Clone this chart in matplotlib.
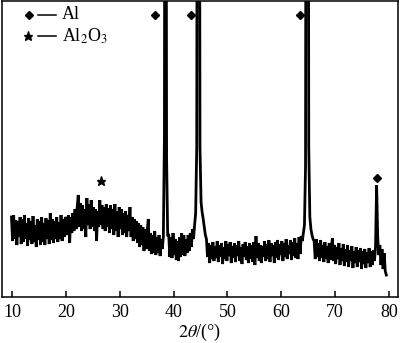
import numpy as np
import matplotlib
matplotlib.use("Agg")
import matplotlib.pyplot as plt

plt.rcParams['font.family'] = ['Liberation Serif', 'DejaVu Serif']
plt.rcParams['mathtext.fontset'] = 'stix'

# 2theta sampling grid (degrees)
theta_start = 9.9
theta_step = 0.2

# Intensity (arbitrary units)
seg_10_20 = [80, 56, 82, 58, 77, 52, 76, 60, 80, 53,
             78, 55, 82, 58, 74, 51, 79, 57, 76, 53,
             81, 55, 72, 50, 78, 57, 76, 52, 80, 55,
             74, 52, 79, 58, 77, 53, 84, 57, 78, 54,
             76, 58, 80, 55, 75, 58, 82, 56, 78, 60,
             80]
seg_20_30 = [78, 62, 82, 54, 80, 64, 84, 66, 88, 68,
             90, 102, 70, 94, 66, 92, 68, 88, 60, 99,
             72, 93, 68, 97, 70, 90, 66, 88, 56, 86,
             70, 97, 72, 92, 68, 90, 66, 93, 70, 89,
             64, 92, 68, 88, 62, 93, 66, 86, 60, 90]
seg_30_38 = [68, 88, 62, 84, 64, 86, 60, 82, 66, 90,
             60, 80, 56, 78, 58, 76, 54, 74, 50, 72,
             52, 70, 46, 68, 48, 66, 78, 46, 64, 43,
             62, 44, 66, 42, 60, 44, 62, 41, 58, 48]
peak_38 = [60, 160, 1000, 140, 62]
seg_39_44 = [62, 40, 60, 39, 64, 42, 58, 37, 56, 36,
             60, 40, 64, 42, 62, 41, 58, 44, 62, 46,
             64, 50, 68, 58]
peak_44 = [72, 84, 150, 1000, 1000, 150, 95, 85, 78, 70, 62]
seg_46_64 = [58, 40, 54, 34, 52, 38, 55, 36, 51, 39,
             56, 35, 52, 40, 54, 33, 50, 38, 56, 36,
             53, 41, 55, 34, 51, 39, 54, 35, 52, 41,
             56, 36, 50, 33, 53, 40, 55, 37, 51, 34,
             54, 38, 52, 35, 55, 32, 61, 39, 54, 36,
             52, 34, 51, 40, 56, 36, 53, 38, 57, 35,
             54, 41, 52, 34, 55, 39, 57, 37, 53, 42,
             56, 36, 54, 40, 58, 38, 52, 43, 57, 37,
             55, 41, 59, 39, 54, 38, 60, 43, 61, 56]
peak_65 = [64, 72, 130, 1000, 1000, 150, 80, 68, 62, 58]
seg_66_77 = [56, 38, 58, 40, 54, 36, 57, 39, 52, 35,
             55, 38, 51, 34, 54, 37, 50, 59, 36, 52,
             33, 50, 38, 54, 32, 49, 36, 53, 31, 48,
             35, 52, 30, 47, 36, 51, 29, 46, 34, 50,
             30, 47, 35, 49, 28, 46, 33, 48, 29, 45,
             34, 49, 30, 46, 32, 47, 36]
peak_78 = [50, 112, 60, 42]
seg_78_80 = [52, 32, 48, 28, 44, 26, 22]

intensity = np.array(seg_10_20 + seg_20_30 + seg_30_38 + peak_38 + seg_39_44 +
                     peak_44 + seg_46_64 + peak_65 + seg_66_77 + peak_78 + seg_78_80,
                     dtype=float)
two_theta = np.round(theta_start + theta_step * np.arange(len(intensity)), 1)

# Phase markers
al_marks_x = [36.55, 43.2, 63.5, 77.7]
al_marks_y = [282, 282, 282, 119]
al2o3_marks_x = [26.5]
al2o3_marks_y = [116]

xticks = [10, 20, 30, 40, 50, 60, 70, 80]

fig = plt.figure(figsize=(4.0, 3.43), dpi=100)
ax = fig.add_axes([0.005, 0.134, 0.99, 0.863])

ax.plot(two_theta, intensity, color='black', lw=2.0, solid_joinstyle='miter')
ax.plot(al_marks_x, al_marks_y, linestyle='none', marker='D', color='black', markersize=4)
ax.plot(al2o3_marks_x, al2o3_marks_y, linestyle='none', marker='*', color='black', markersize=6.5)

ax.set_xlim(8.14, 81.67)
ax.set_ylim(0, 296)
ax.set_yticks([])
ax.set_xticks(xticks)
ax.set_xticklabels([str(t) for t in xticks])
ax.tick_params(axis='x', direction='in', length=4, width=1.1, labelsize=13, pad=5)
for s in ax.spines.values():
    s.set_linewidth(1.1)

ax.set_xlabel(r'$2\theta$/(°)', fontsize=13, labelpad=1)

# Legend drawn in axes coordinates
tr = ax.transAxes
ax.plot([0.0682], [0.953], transform=tr, marker='D', color='black', markersize=4, linestyle='none')
ax.plot([0.0909, 0.1364], [0.953, 0.953], transform=tr, color='black', lw=1.1)
ax.text(0.152, 0.953, 'Al', transform=tr, fontsize=13, va='center', ha='left')
ax.plot([0.0657], [0.882], transform=tr, marker='*', color='black', markersize=6.5, linestyle='none')
ax.plot([0.0909, 0.1364], [0.882, 0.882], transform=tr, color='black', lw=1.1)
ax.text(0.152, 0.882, r'Al$_2$O$_3$', transform=tr, fontsize=13, va='center', ha='left')

fig.savefig('out.png', dpi=100)
